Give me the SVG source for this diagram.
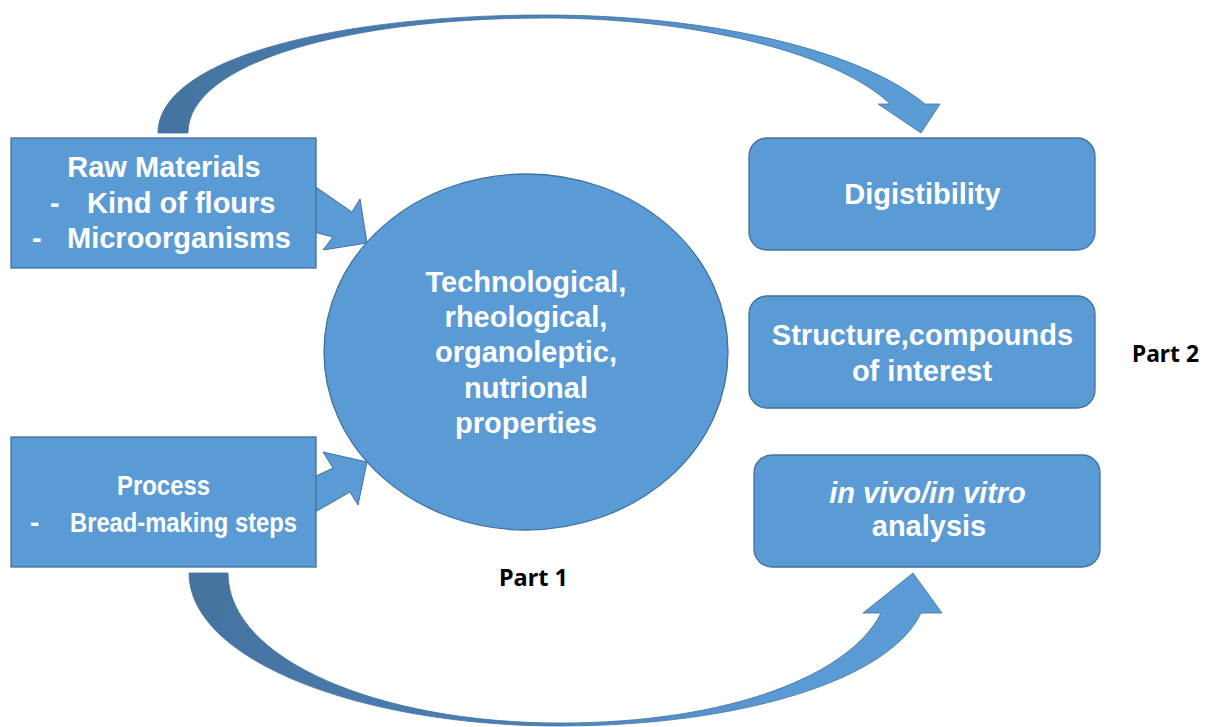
<svg xmlns="http://www.w3.org/2000/svg" width="1207" height="727" viewBox="0 0 1207 727">
  <defs>
    <linearGradient id="gTop" gradientUnits="userSpaceOnUse" x1="150" y1="0" x2="945" y2="0">
      <stop offset="0" stop-color="#44739F"/>
      <stop offset="0.45" stop-color="#4B80B6"/>
      <stop offset="0.8" stop-color="#5B9BD5"/>
    </linearGradient>
    <linearGradient id="gBot" gradientUnits="userSpaceOnUse" x1="185" y1="0" x2="945" y2="0">
      <stop offset="0" stop-color="#44739F"/>
      <stop offset="0.45" stop-color="#4B80B6"/>
      <stop offset="0.8" stop-color="#5B9BD5"/>
    </linearGradient>
  </defs>
  <style>
    .box { fill: #5B9BD5; stroke: #41719C; stroke-width: 1.3; }
    .arr { fill: #5B9BD5; stroke: #41719C; stroke-width: 1; stroke-linejoin: miter; }
    .t { font-family: "Liberation Sans", Arial, sans-serif; font-weight: bold; fill: #FFFFFF; font-size: 29px; }
    .n { font-size: 28px; }
    .c { text-anchor: middle; }
    .lbl { font-family: "Noto Sans", "Open Sans", sans-serif; font-weight: bold; fill: #000000; font-size: 23px; }
  </style>
  <rect width="1207" height="727" fill="#FFFFFF"/>

  <g id="connectors">
    <path d="M158,133 C158,60 330,15 545,15 C710,15 860,50 925,104 L940,104 L921,133 L878,104 L890,104 C840,55 700,18 545,18 C350,18 188,62 188,133 Z" fill="url(#gTop)" stroke="#41719C" stroke-width="0.8"/>
    <path d="M189,573 C189,660 360,726 560,726 C740,726 890,680 921,613 L942,613 L913,573 L863,613 L881,613 C850,675 730,723 560,723 C380,723 228,660 228,573 Z" fill="url(#gBot)" stroke="#41719C" stroke-width="0.8"/>
    <polygon class="arr" points="310,183 352,212 360,199 367,243 323,250 333,237 310,231"/>
    <polygon class="arr" points="310,479 333,468 323,452 367,462 358,505 350,492 310,515"/>
  </g>

  <g id="raw-materials">
    <rect class="box" x="11" y="138" width="305" height="130"/>
    <text class="t c" x="164" y="177">Raw Materials</text>
    <text class="t" x="50" y="212.5">-</text>
    <text class="t" x="87" y="212.5">Kind of flours</text>
    <text class="t" x="32" y="248">-</text>
    <text class="t" x="67" y="248">Microorganisms</text>
  </g>

  <g id="process">
    <rect class="box" x="11" y="437" width="305" height="130"/>
    <text class="t n" x="117" y="495" textLength="93" lengthAdjust="spacingAndGlyphs">Process</text>
    <text class="t n" x="30" y="532">-</text>
    <text class="t n" x="70" y="532" textLength="227" lengthAdjust="spacingAndGlyphs">Bread-making steps</text>
  </g>

  <g id="properties">
    <ellipse class="box" cx="526" cy="352" rx="202" ry="178"/>
    <text class="t c" x="526" y="292">Technological,</text>
    <text class="t c" x="526" y="327">rheological,</text>
    <text class="t c" x="526" y="362">organoleptic,</text>
    <text class="t c" x="526" y="397.5">nutrional</text>
    <text class="t c" x="526" y="433">properties</text>
  </g>

  <g id="digistibility">
    <rect class="box" x="749" y="138" width="346" height="112" rx="18" ry="18"/>
    <text class="t c" x="922.5" y="204">Digistibility</text>
  </g>

  <g id="structure">
    <rect class="box" x="749" y="296" width="346" height="112" rx="18" ry="18"/>
    <text class="t c" x="922.5" y="345">Structure,compounds</text>
    <text class="t c" x="922" y="381">of interest</text>
  </g>

  <g id="analysis">
    <rect class="box" x="754" y="455" width="346" height="112" rx="18" ry="18"/>
    <text class="t c" x="927.5" y="503" font-style="italic">in vivo/in vitro</text>
    <text class="t c" x="929" y="536">analysis</text>
  </g>

  <g id="labels">
    <text class="lbl" x="499" y="586" textLength="69" lengthAdjust="spacingAndGlyphs">Part 1</text>
    <text class="lbl" x="1132" y="362" textLength="67" lengthAdjust="spacingAndGlyphs">Part 2</text>
  </g>
</svg>
